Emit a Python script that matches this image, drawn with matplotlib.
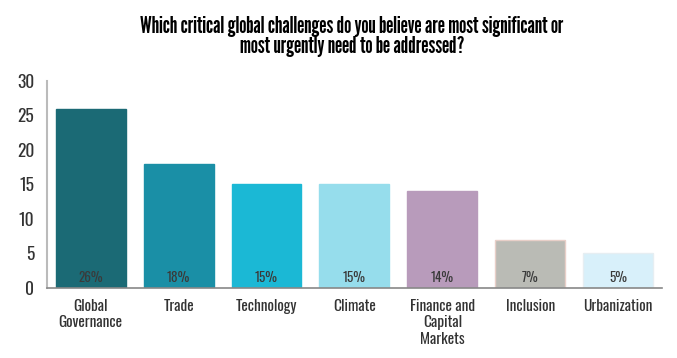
import matplotlib
matplotlib.use("Agg")
import matplotlib.pyplot as plt

categories = ["Global\nGovernance", "Trade", "Technology", "Climate",
              "Finance and\nCapital\nMarkets", "Inclusion", "Urbanization"]
values = [26, 18, 15, 15, 14, 7, 5]
colors = ["#1B6A75", "#1A8FA6", "#1BB8D5", "#96DDEC", "#B89BBB", "#BABBB5", "#D8F0FA"]
edges = ["#1B6A75", "#1A8FA6", "#1BB8D5", "#96DDEC", "#B89BBB", "#E8CFC8", "#E6EEF2"]
yticks = [0, 5, 10, 15, 20, 25, 30]
title = "Which critical global challenges do you believe are most significant or\nmost urgently need to be addressed?"

body = ["Oswald", "DejaVu Sans"]
plt.rcParams["font.family"] = body

fig = plt.figure(figsize=(6.77, 3.58), dpi=100)
ax = fig.add_axes([0.069, 0.1955, 0.909, 0.5785])
x = list(range(len(values)))
ax.bar(x, values, width=0.795, color=colors, edgecolor=edges, linewidth=1)
for xi, v in zip(x, values):
    ax.text(xi, 0.6, f"{v}%", ha="center", va="bottom", fontsize=9.5, color="#3a3a3a",
            fontweight="light")
ax.set_xlim(-0.5, 6.5)
ax.set_ylim(0, 30)
ax.set_yticks(yticks)
ax.set_yticklabels([str(t) for t in yticks], fontsize=12.5, color="#333333", fontweight="light")
ax.set_xticks(x)
ax.set_xticklabels(categories, fontsize=11, color="#333333", linespacing=1.1, fontweight="light")
ax.tick_params(length=0, pad=8)
ax.tick_params(axis="y", pad=9)
for s in ["top", "right"]:
    ax.spines[s].set_visible(False)
ax.spines["left"].set_color("#BBBBBB")
ax.spines["left"].set_linewidth(1.5)
ax.spines["bottom"].set_color("#888888")
ax.spines["bottom"].set_linewidth(1.2)
fig.text(0.52, 0.898, title, ha="center", va="center", fontsize=16.5, fontweight="bold",
         color="black", linespacing=0.95, family=["League Gothic", "Oswald"])
fig.savefig("out.png", dpi=100)
